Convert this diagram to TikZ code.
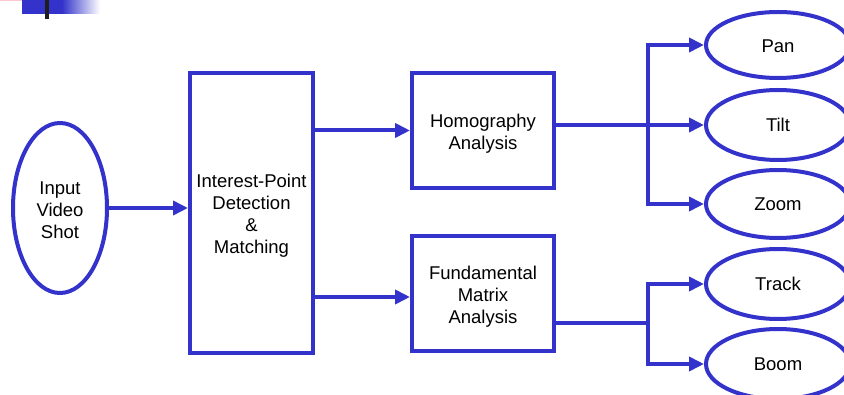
\documentclass[tikz,border=0pt]{standalone}
\usepackage{fontspec}
\setmainfont{Liberation Sans}
\usepackage{tikz}
\usetikzlibrary{positioning}
\usetikzlibrary{shapes.geometric}
\usetikzlibrary{arrows.meta}
\usepackage{xcolor}
\definecolor{flowblue}{RGB}{51,51,204}
\definecolor{barpink}{RGB}{250,200,205}
\definecolor{bardark}{RGB}{30,30,30}
\newcommand{\lift}[1]{\rule{0pt}{#1}}

\tikzset{
    stage/.style={draw=flowblue, line width=4pt, rectangle, align=center,
        font=\fontsize{18.5}{22}\selectfont},
    shot/.style={draw=flowblue, line width=4pt, ellipse, align=center, inner sep=0pt,
        font=\fontsize{18.5}{22}\selectfont},
    flow/.style={draw=flowblue, line width=4pt,
        -{Triangle[length=15pt,width=14pt]}},
    link/.style={draw=flowblue, line width=4pt}
}

\begin{document}
\begin{tikzpicture}[x=1pt, y=-1pt]
    \useasboundingbox (0,0) rectangle (844,395);
    \begin{scope}
    \clip (0,0) rectangle (844,395);

    % Slide corner mark
    \fill[barpink] (0,0) rectangle (38,1.5);
    \fill[flowblue] (22,0) rectangle (62,14);
    \shade[left color=flowblue, right color=white] (62,0) rectangle (100,14);
    \fill[bardark] (45,0) rectangle (49,19);

    % Input and detection
    \node[shot, minimum width=94, minimum height=170] (input) at (60,208) {\lift{17.5pt}Input\\Video\\Shot};
    \node[stage, minimum width=123, minimum height=280] (detect) at (251.5,213) {\lift{19.5pt}Interest-Point\\Detection\\\&\\Matching};

    % Analysis stages
    \node[stage, minimum width=142, minimum height=115] (homog) at (483,130.5) {\lift{20pt}Homography\\Analysis};
    \node[stage, minimum width=142, minimum height=115] (fund) at (483,293.5) {\lift{19.5pt}Fundamental\\Matrix\\Analysis};

    % Camera motions
    \node[shot, minimum width=144, minimum height=66] (pan) at (778,45) {\lift{15.5pt}Pan};
    \node[shot, minimum width=144, minimum height=70] (tilt) at (778,125) {Tilt};
    \node[shot, minimum width=144, minimum height=68] (zoom) at (778,204) {Zoom};
    \node[shot, minimum width=144, minimum height=70] (track) at (778,284) {Track};
    \node[shot, minimum width=144, minimum height=70] (boom) at (778,364) {Boom};

    % Connectors
    \draw[flow] (input.east) -- (input.east -| detect.west);
    \draw[flow] (detect.east |- homog.west) -- (homog.west);
    \draw[flow] (detect.east |- 0,297) -- (fund.west |- 0,297);

    \coordinate (hsplit) at (648,0);
    \draw[flow] (homog.east |- tilt) -- (tilt.west);
    \draw[flow] (hsplit |- zoom) -- (hsplit |- pan) -- (pan.west);
    \draw[flow] (hsplit |- tilt) -- (hsplit |- zoom) -- (zoom.west);

    \coordinate (fsplit) at (648,323);
    \draw[link] (fund.east |- fsplit) -- (fsplit);
    \draw[flow] (fsplit) -- (fsplit |- track) -- (track.west);
    \draw[flow] (fsplit) -- (fsplit |- boom) -- (boom.west);
    \end{scope}
\end{tikzpicture}
\end{document}
